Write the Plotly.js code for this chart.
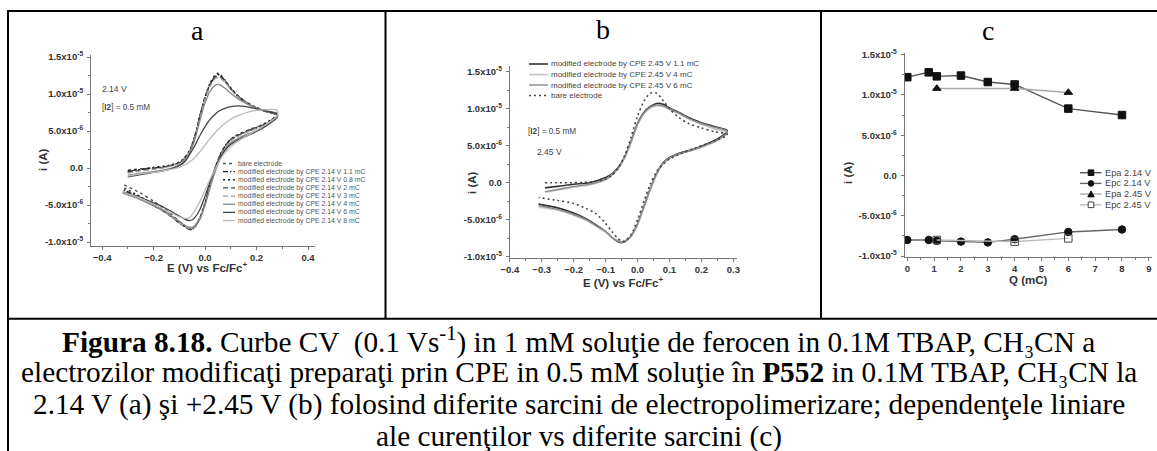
<!DOCTYPE html>
<html>
<head>
<meta charset="utf-8">
<script src="https://cdn.plot.ly/plotly-3.0.1.min.js"></script>
<style>
  html, body { margin: 0; padding: 0; background: #fff; }
  #fig { width: 1157px; height: 451px; }
</style>
</head>
<body>
<div id="fig"></div>
<script>
// ---------- Panel a: CV curves, CPE at 2.14 V (current in units of 1e-5 A) ----------
const E_fwd_a = [-0.30, -0.25, -0.20, -0.15, -0.10, -0.08, -0.06, -0.04, -0.02, 0.00, 0.02, 0.04, 0.05, 0.06, 0.08, 0.10, 0.13, 0.16, 0.20, 0.24, 0.28];
const E_rev_a = [0.28, 0.25, 0.22, 0.18, 0.14, 0.10, 0.08, 0.06, 0.04, 0.02, 0.00, -0.02, -0.04, -0.05, -0.06, -0.08, -0.10, -0.13, -0.16, -0.20, -0.25, -0.32];

const a_bare_up = [-0.03, -0.01, 0.00, 0.02, 0.07, 0.13, 0.23, 0.42, 0.70, 0.96, 1.14, 1.25, 1.27, 1.25, 1.17, 1.08, 0.97, 0.89, 0.81, 0.76, 0.72];
const a_bare_dn = [0.70, 0.63, 0.58, 0.53, 0.47, 0.39, 0.31, 0.19, 0.01, -0.21, -0.47, -0.67, -0.79, -0.82, -0.82, -0.78, -0.72, -0.63, -0.54, -0.45, -0.34, -0.22];
const a_11_up   = [-0.05, -0.02, 0.00, 0.02, 0.07, 0.13, 0.23, 0.42, 0.70, 0.95, 1.13, 1.24, 1.26, 1.24, 1.16, 1.07, 0.96, 0.88, 0.81, 0.76, 0.72];
const a_11_dn   = [0.70, 0.63, 0.57, 0.52, 0.46, 0.38, 0.30, 0.18, 0.00, -0.22, -0.48, -0.68, -0.80, -0.83, -0.83, -0.79, -0.74, -0.66, -0.58, -0.50, -0.40, -0.29];
const a_08_up   = [-0.04, -0.02, 0.01, 0.03, 0.08, 0.14, 0.24, 0.43, 0.71, 0.96, 1.15, 1.26, 1.28, 1.26, 1.18, 1.08, 0.97, 0.89, 0.82, 0.76, 0.72];
const a_08_dn   = [0.71, 0.64, 0.58, 0.52, 0.47, 0.39, 0.31, 0.19, 0.01, -0.21, -0.47, -0.67, -0.79, -0.82, -0.82, -0.78, -0.73, -0.65, -0.57, -0.49, -0.39, -0.26];
const a_2_up    = [-0.06, -0.03, -0.01, 0.02, 0.07, 0.12, 0.22, 0.41, 0.69, 0.94, 1.12, 1.23, 1.24, 1.23, 1.16, 1.07, 0.96, 0.88, 0.81, 0.76, 0.72];
const a_2_dn    = [0.69, 0.62, 0.57, 0.52, 0.46, 0.38, 0.30, 0.18, 0.00, -0.23, -0.49, -0.69, -0.80, -0.83, -0.83, -0.79, -0.74, -0.66, -0.59, -0.51, -0.41, -0.31];
const a_3_up    = [-0.07, -0.04, -0.02, 0.01, 0.06, 0.12, 0.22, 0.40, 0.68, 0.93, 1.11, 1.21, 1.22, 1.21, 1.15, 1.06, 0.95, 0.88, 0.81, 0.76, 0.73];
const a_3_dn    = [0.69, 0.62, 0.56, 0.51, 0.45, 0.37, 0.29, 0.17, -0.01, -0.24, -0.49, -0.69, -0.80, -0.82, -0.82, -0.79, -0.74, -0.66, -0.59, -0.51, -0.42, -0.32];
const a_4_up    = [-0.10, -0.07, -0.05, -0.02, 0.04, 0.10, 0.20, 0.38, 0.64, 0.88, 1.04, 1.12, 1.13, 1.12, 1.07, 1.01, 0.93, 0.87, 0.81, 0.77, 0.74];
const a_4_dn    = [0.68, 0.60, 0.54, 0.48, 0.42, 0.34, 0.26, 0.14, -0.04, -0.26, -0.50, -0.68, -0.78, -0.80, -0.80, -0.77, -0.72, -0.65, -0.58, -0.51, -0.43, -0.34];
const a_6_up    = [-0.12, -0.09, -0.06, -0.03, 0.03, 0.08, 0.18, 0.30, 0.44, 0.56, 0.66, 0.73, 0.76, 0.78, 0.81, 0.83, 0.84, 0.83, 0.80, 0.77, 0.73];
const a_6_dn    = [0.69, 0.60, 0.53, 0.46, 0.40, 0.32, 0.25, 0.15, 0.00, -0.18, -0.38, -0.56, -0.67, -0.70, -0.71, -0.69, -0.65, -0.59, -0.53, -0.47, -0.40, -0.33];
const a_8_up    = [-0.11, -0.08, -0.06, -0.03, 0.01, 0.04, 0.08, 0.14, 0.22, 0.31, 0.40, 0.48, 0.52, 0.55, 0.61, 0.66, 0.71, 0.75, 0.78, 0.79, 0.78];
const a_8_dn    = [0.70, 0.62, 0.55, 0.47, 0.39, 0.29, 0.22, 0.12, -0.01, -0.15, -0.30, -0.45, -0.58, -0.63, -0.67, -0.68, -0.66, -0.61, -0.56, -0.49, -0.41, -0.33];

const a_names = [
  'bare electrode',
  'modified electrode by CPE 2.14 V 1.1 mC',
  'modified electrode by CPE 2.14 V 0.8 mC',
  'modified electrode by CPE 2.14 V 2 mC',
  'modified electrode by CPE 2.14 V 3 mC',
  'modified electrode by CPE 2.14 V 4 mC',
  'modified electrode by CPE 2.14 V 6 mC',
  'modified electrode by CPE 2.14 V 8 mC'
];
const a_up = [a_bare_up, a_11_up, a_08_up, a_2_up, a_3_up, a_4_up, a_6_up, a_8_up];
const a_dn = [a_bare_dn, a_11_dn, a_08_dn, a_2_dn, a_3_dn, a_4_dn, a_6_dn, a_8_dn];
const a_styles = [
  {color: '#555', width: 1.4, dash: 'dot'},
  {color: '#222', width: 1.4, dash: '5px,2px,1.5px,2px,1.5px,2px'},
  {color: '#222', width: 1.4, dash: '2px,3px'},
  {color: '#444', width: 1.3, dash: '5px,3px'},
  {color: '#999', width: 1.3, dash: '5px,3px'},
  {color: '#888', width: 1.3, dash: 'solid'},
  {color: '#444', width: 1.3, dash: 'solid'},
  {color: '#bbb', width: 1.3, dash: 'solid'}
];

// ---------- Panel b: CV curves, CPE at 2.45 V ----------
const E_fwd_b = [-0.29, -0.25, -0.20, -0.15, -0.10, -0.08, -0.06, -0.04, -0.02, 0.00, 0.02, 0.04, 0.06, 0.08, 0.10, 0.13, 0.16, 0.20, 0.24, 0.28];
const E_rev_b = [0.28, 0.25, 0.22, 0.18, 0.14, 0.10, 0.08, 0.06, 0.04, 0.02, 0.00, -0.02, -0.04, -0.05, -0.06, -0.08, -0.10, -0.13, -0.16, -0.20, -0.25, -0.31];

const b_11_up   = [-0.07, -0.05, -0.02, 0.00, 0.07, 0.12, 0.21, 0.35, 0.56, 0.80, 0.95, 1.03, 1.07, 1.06, 1.01, 0.95, 0.88, 0.81, 0.76, 0.71];
const b_11_dn   = [0.69, 0.59, 0.53, 0.46, 0.41, 0.34, 0.27, 0.13, -0.08, -0.32, -0.56, -0.72, -0.80, -0.81, -0.80, -0.74, -0.66, -0.57, -0.49, -0.41, -0.34, -0.29];
const b_4_up    = [-0.13, -0.10, -0.06, -0.03, 0.04, 0.10, 0.19, 0.34, 0.55, 0.78, 0.93, 1.01, 1.04, 1.03, 0.99, 0.93, 0.86, 0.79, 0.73, 0.68];
const b_4_dn    = [0.66, 0.57, 0.51, 0.45, 0.40, 0.33, 0.26, 0.12, -0.09, -0.33, -0.57, -0.72, -0.79, -0.80, -0.79, -0.74, -0.67, -0.59, -0.51, -0.44, -0.37, -0.33];
const b_6_up    = [-0.12, -0.09, -0.05, -0.02, 0.05, 0.11, 0.20, 0.35, 0.56, 0.79, 0.94, 1.02, 1.05, 1.04, 1.00, 0.94, 0.87, 0.80, 0.75, 0.70];
const b_6_dn    = [0.67, 0.58, 0.52, 0.45, 0.40, 0.33, 0.26, 0.12, -0.09, -0.33, -0.56, -0.72, -0.79, -0.80, -0.79, -0.74, -0.66, -0.58, -0.50, -0.43, -0.36, -0.31];
const b_bare_up = [0.00, 0.00, 0.00, 0.01, 0.05, 0.10, 0.20, 0.37, 0.62, 0.90, 1.10, 1.21, 1.21, 1.11, 1.00, 0.88, 0.80, 0.74, 0.69, 0.66];
const b_bare_dn = [0.64, 0.58, 0.53, 0.47, 0.40, 0.32, 0.25, 0.15, -0.02, -0.25, -0.50, -0.70, -0.79, -0.79, -0.76, -0.66, -0.55, -0.42, -0.35, -0.28, -0.24, -0.20];

const b_names = [
  'modified electrode by CPE 2.45 V 1.1 mC',
  'modified electrode by CPE 2.45 V 4 mC',
  'modified electrode by CPE 2.45 V 6 mC',
  'bare electrode'
];
const b_up = [b_11_up, b_4_up, b_6_up, b_bare_up];
const b_dn = [b_11_dn, b_4_dn, b_6_dn, b_bare_dn];
const b_styles = [
  {color: '#333', width: 1.6, dash: 'solid'},
  {color: '#c4c4c4', width: 1.6, dash: 'solid'},
  {color: '#8a8a8a', width: 1.4, dash: 'solid'},
  {color: '#444', width: 1.6, dash: '2px,3px'}
];

// ---------- Panel c: peak currents vs charge ----------
const Q_214 = [0, 0.8, 1.1, 2, 3, 4, 6, 8];
const Epa_214 = [1.22, 1.28, 1.23, 1.24, 1.16, 1.13, 0.83, 0.75];
const Epc_214 = [-0.80, -0.80, -0.81, -0.82, -0.83, -0.79, -0.70, -0.67];
const Q_245 = [1.1, 4, 6];
const Epa_245 = [1.08, 1.08, 1.03];
const Epc_245 = [-0.80, -0.82, -0.78];

const c_names = ['Epa 2.14 V', 'Epc 2.14 V', 'Epa 2.45 V', 'Epc 2.45 V'];

// current tick labels (axis values are in units of 1e-5 A)
const i_tickvals = [-1.0, -0.5, 0.0, 0.5, 1.0, 1.5];
const i_ticktext = ['-1.0x10<sup>-5</sup>', '-5.0x10<sup>-6</sup>', '0.0', '5.0x10<sup>-6</sup>', '1.0x10<sup>-5</sup>', '1.5x10<sup>-5</sup>'];

// ---------- helpers for pixel placement on the page ----------
const W = 1157, H = 451;
const px = x => x / W;
const py = y => 1 - y / H;

const traces = [];
a_names.forEach((n, k) => {
  traces.push({
    type: 'scatter', mode: 'lines', name: n, xaxis: 'x', yaxis: 'y',
    x: E_fwd_a.concat(E_rev_a), y: a_up[k].concat(a_dn[k]),
    line: Object.assign({shape: 'spline', smoothing: 0.8}, a_styles[k]),
    showlegend: false, hoverinfo: 'skip'
  });
});
b_names.forEach((n, k) => {
  traces.push({
    type: 'scatter', mode: 'lines', name: n, xaxis: 'x2', yaxis: 'y2',
    x: E_fwd_b.concat(E_rev_b), y: b_up[k].concat(b_dn[k]),
    line: Object.assign({shape: 'spline', smoothing: 0.8}, b_styles[k]),
    showlegend: false, hoverinfo: 'skip'
  });
});
const c_series = [
  {x: Q_214, y: Epa_214, line: '#555', sym: 'square', fill: '#111'},
  {x: Q_214, y: Epc_214, line: '#666', sym: 'circle', fill: '#111'},
  {x: Q_245, y: Epa_245, line: '#aaa', sym: 'triangle-up', fill: '#111'},
  {x: Q_245, y: Epc_245, line: '#bbb', sym: 'square-open', fill: '#444'}
];
c_series.forEach((s, k) => {
  traces.push({
    type: 'scatter', mode: 'lines+markers', name: c_names[k], xaxis: 'x3', yaxis: 'y3',
    x: s.x, y: s.y,
    line: {color: s.line, width: 1.4},
    marker: {symbol: s.sym, size: 7.5, color: s.fill, line: {color: s.fill, width: 1}},
    showlegend: false, hoverinfo: 'skip'
  });
});

// ---------- axes ----------
const axisBase = {
  showline: true, linecolor: '#777', linewidth: 1, mirror: false,
  ticks: 'outside', ticklen: 3, tickcolor: '#777', tickwidth: 1,
  showgrid: false, zeroline: false, fixedrange: true
};
const tf = size => ({family: 'Arial, Liberation Sans, sans-serif', size: size, color: '#333', weight: 'bold'});
const minorTicks = d => ({tickmode: 'linear', tick0: 0, dtick: d, ticklen: 2, tickcolor: '#777', ticks: 'outside'});

const layout = {
  width: W, height: H,
  margin: {l: 0, r: 0, t: 0, b: 0},
  paper_bgcolor: '#fff', plot_bgcolor: 'rgba(0,0,0,0)',
  showlegend: false,
  xaxis: Object.assign({}, axisBase, {
    domain: [px(91), px(315)], range: [-0.443, 0.427], anchor: 'y',
    tickmode: 'linear', tick0: 0, dtick: 0.2, tickformat: '.1f', tickfont: tf(9.5),
    minor: minorTicks(0.1)
  }),
  yaxis: Object.assign({}, axisBase, {
    domain: [py(246), py(55)], range: [-1.054, 1.527], anchor: 'x',
    tickmode: 'array', tickvals: i_tickvals, ticktext: i_ticktext, tickfont: tf(9.5),
    ticklabelstandoff: 2, minor: minorTicks(0.25)
  }),
  xaxis2: Object.assign({}, axisBase, {
    domain: [px(509.8), px(737)], range: [-0.4, 0.3115], anchor: 'y2',
    tickmode: 'linear', tick0: 0, dtick: 0.1, tickformat: '.1f', tickfont: tf(9.5),
    minor: minorTicks(0.05)
  }),
  yaxis2: Object.assign({}, axisBase, {
    domain: [py(258), py(66)], range: [-1.0176, 1.577], anchor: 'x2',
    tickmode: 'array', tickvals: i_tickvals, ticktext: i_ticktext, tickfont: tf(9.5),
    ticklabelstandoff: 2, minor: minorTicks(0.25)
  }),
  xaxis3: Object.assign({}, axisBase, {
    domain: [px(904.6), px(1151.5)], range: [-0.1, 9.1], anchor: 'y3',
    tickmode: 'linear', tick0: 0, dtick: 1, tickfont: tf(9.5),
    minor: minorTicks(0.5)
  }),
  yaxis3: Object.assign({}, axisBase, {
    domain: [py(257), py(53)], range: [-1.011, 1.52], anchor: 'x3',
    tickmode: 'array', tickvals: i_tickvals, ticktext: i_ticktext, tickfont: tf(9.5),
    ticklabelstandoff: 2, minor: minorTicks(0.25)
  }),
  shapes: [],
  annotations: []
};

const ann = (x, y, text, opts) => layout.annotations.push(Object.assign({
  xref: 'paper', yref: 'paper', x: px(x), y: py(y), text: text, showarrow: false,
  xanchor: 'center', yanchor: 'middle', borderpad: 0
}, opts || {}));
const hline = (x0, x1, y, line) => layout.shapes.push({type: 'line', xref: 'paper', yref: 'paper',
  x0: px(x0), x1: px(x1), y0: py(y), y1: py(y), line: line});
const vline = (x, y0, y1, line) => layout.shapes.push({type: 'line', xref: 'paper', yref: 'paper',
  x0: px(x), x1: px(x), y0: py(y0), y1: py(y1), line: line});

// table frame
const frame = {color: '#000', width: 2};
hline(7, 1157, 11, frame);
vline(8, 10, 451, frame);
vline(385.5, 11, 319, frame);
vline(821, 11, 319, frame);
hline(7, 1157, 318.7, frame);

// panel letters
const serif = 'Liberation Serif, Times New Roman, serif';
ann(197, 30, 'a', {font: {family: serif, size: 28, color: '#000'}});
ann(603, 29, 'b', {font: {family: serif, size: 28, color: '#000'}});
ann(988, 30, 'c', {font: {family: serif, size: 28, color: '#000'}});

// axis titles
const sans = 'Arial, Liberation Sans, sans-serif';
const atf = {family: sans, size: 11.5, color: '#333', weight: 'bold'};
ann(43, 160, 'i (A)', {font: atf, textangle: -90});
ann(207, 267, 'E (V) vs Fc/Fc<sup>+</sup>', {font: atf});
ann(472, 183, 'i (A)', {font: atf, textangle: -90});
ann(623, 282, 'E (V) vs Fc/Fc<sup>+</sup>', {font: atf});
ann(848, 173, 'i (A)', {font: atf, textangle: -90});
ann(1028, 280, 'Q (mC)', {font: atf});

// in-plot notes
const note = s => ({family: sans, size: s, color: '#444'});
ann(101, 89, '2.14 V', {xanchor: 'left', font: note(8.5)});
ann(101, 107, '[<b>I2</b>] = 0.5 mM', {xanchor: 'left', font: note(8.2)});
ann(527, 131, '[<b>I2</b>] = 0.5 mM', {xanchor: 'left', font: note(8.2)});
ann(536, 152, '2.45 V', {xanchor: 'left', font: note(8.5)});

// legend of panel a
a_names.forEach((n, k) => {
  const y = 163.5 + k * 8.15;
  hline(223, 235, y, a_styles[k]);
  ann(236.5, y, n, {xanchor: 'left', font: {family: sans, size: 6.9, color: '#555'}});
});
// legend of panel b
b_names.forEach((n, k) => {
  const y = 64 + k * 10.5;
  hline(529, 548, y, b_styles[k]);
  ann(550, y, n, {xanchor: 'left', font: {family: sans, size: 8, color: '#444'}});
});
// legend of panel c
c_series.forEach((s, k) => {
  const y = 172.7 + k * 10.7;
  hline(1080, 1101.5, y, {color: s.line, width: 1.4});
  const m = 2.8;
  if (s.sym === 'circle') {
    layout.shapes.push({type: 'circle', xref: 'paper', yref: 'paper',
      x0: px(1091 - m), x1: px(1091 + m), y0: py(y + m), y1: py(y - m),
      fillcolor: s.fill, line: {color: s.fill, width: 1}});
  } else if (s.sym === 'triangle-up') {
    layout.shapes.push({type: 'path', xref: 'paper', yref: 'paper',
      path: `M ${px(1091 - 3.2)} ${py(y + 2.8)} L ${px(1091 + 3.2)} ${py(y + 2.8)} L ${px(1091)} ${py(y - 3.2)} Z`,
      fillcolor: s.fill, line: {color: s.fill, width: 1}});
  } else {
    layout.shapes.push({type: 'rect', xref: 'paper', yref: 'paper',
      x0: px(1091 - m), x1: px(1091 + m), y0: py(y + m), y1: py(y - m),
      fillcolor: s.sym === 'square-open' ? '#fff' : s.fill, line: {color: s.fill, width: 1}});
  }
  ann(1103.5, y, c_names[k], {xanchor: 'left', font: {family: sans, size: 9.3, color: '#444'}});
});

// caption (subscript 3 as a Unicode glyph so it stays inside its own line)
const cap = {family: serif, size: 29.3, color: '#000'};
const nb = '\u00A0';
ann(579, 340, '<b>Figura 8.18.</b> Curbe CV ' + nb + '(0.1 Vs<sup>-1</sup>) in 1 mM soluţie de ferocen in 0.1M TBAP, CH\u2083CN a', {font: cap});
ann(579, 372, 'electrozilor modificaţi preparaţi prin CPE in 0.5 mM soluţie în <b>P552</b> in 0.1M TBAP, CH\u2083CN la', {font: cap});
ann(579, 404, '2.14 V (a) şi +2.45 V (b) folosind diferite sarcini de electropolimerizare; dependenţele liniare', {font: cap});
ann(579, 436, 'ale curenţilor vs diferite sarcini (c)', {font: cap});

Plotly.newPlot('fig', traces, layout, {staticPlot: true, displayModeBar: false});
</script>
</body>
</html>
